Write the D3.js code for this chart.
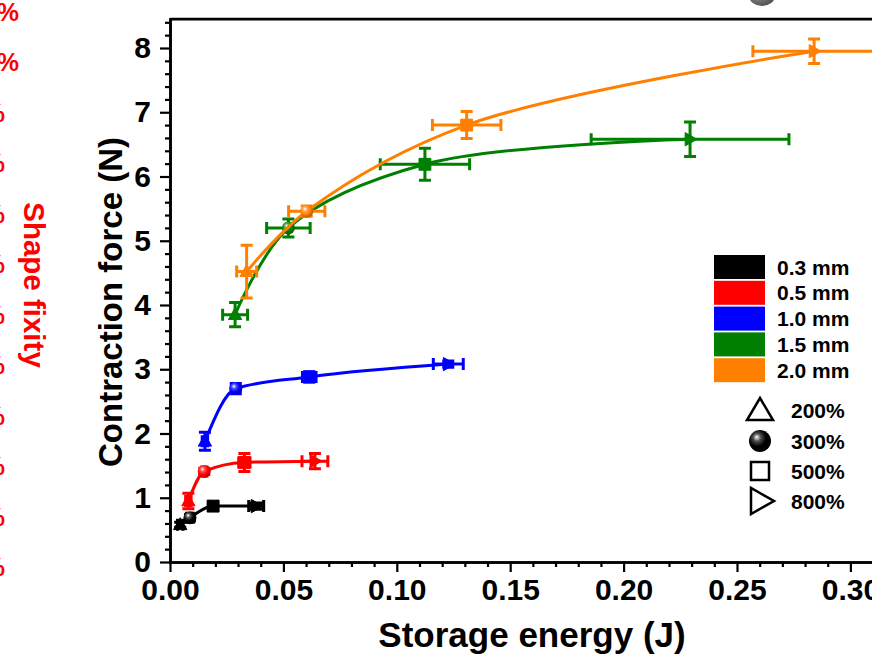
<!DOCTYPE html>
<html>
<head>
<meta charset="utf-8">
<script src="https://cdn.jsdelivr.net/npm/d3@7"></script>
<style>
  body { margin: 0; background: #fff; }
  svg { display: block; }
  text { font-family: "Liberation Sans", Arial, Helvetica, sans-serif; font-weight: bold; }
</style>
</head>
<body>
<svg id="chart" width="872" height="658"></svg>
<script>
// Sample thickness (one curve each) and pre-strain (marker shape per point)
const thicknessLabels = ["0.3 mm", "0.5 mm", "1.0 mm", "1.5 mm", "2.0 mm"];
const strainLabels = ["200%", "300%", "500%", "800%"];

// Storage energy (J), one row per thickness, one column per pre-strain
const energy = [
  [0.0045, 0.0088, 0.0190, 0.0380],
  [0.0081, 0.0151, 0.0328, 0.0639],
  [0.0154, 0.0290, 0.0614, 0.1227],
  [0.0287, 0.0522, 0.1124, 0.2293],
  [0.0338, 0.0603, 0.1308, 0.2840]
];
// Contraction force (N)
const force = [
  [0.58, 0.69, 0.87, 0.87],
  [0.95, 1.41, 1.55, 1.57],
  [1.88, 2.70, 2.88, 3.08],
  [3.85, 5.20, 6.19, 6.58],
  [4.52, 5.46, 6.80, 7.95]
];
// Standard deviations
const energyErr = [
  [0.0012, 0.0015, 0.0020, 0.0033],
  [0.0012, 0.0012, 0.0025, 0.0057],
  [0.0012, 0.0020, 0.0030, 0.0066],
  [0.0055, 0.0096, 0.0197, 0.0436],
  [0.0044, 0.0080, 0.0151, 0.0270]
];
const forceErr = [
  [0.04, 0.05, 0.04, 0.05],
  [0.12, 0.05, 0.14, 0.12],
  [0.14, 0.08, 0.08, 0.05],
  [0.19, 0.14, 0.25, 0.27],
  [0.41, 0.08, 0.21, 0.19]
];

// Axis ticks
const xMajorTicks = [0, 0.05, 0.10, 0.15, 0.20, 0.25, 0.30];
const yMajorTicks = [0, 1, 2, 3, 4, 5, 6, 7, 8];
// Right-hand axis of the neighbouring panel (shape fixity, %)
const fixityTicks = [102, 100, 98, 96, 94, 92, 90, 88, 86, 84, 82, 80];

const seriesColors = ["#000000", "#ff0000", "#0000ff", "#008000", "#ff8000"];
// Smoothing used for each thickness curve
const seriesCurves = [d3.curveMonotoneX, d3.curveMonotoneX, d3.curveMonotoneX,
  d3.curveCatmullRom.alpha(0.5), d3.curveCatmullRom.alpha(0.5)];

const svg = d3.select("#chart");

const x = d3.scaleLinear().domain([0, 0.31]).range([170, 170 + 0.31 * 2268]);
const y = d3.scaleLinear().domain([0, 8.45]).range([562, 562 - 8.45 * 64.25]);
const yFix = d3.scaleLinear().domain([80, 102]).range([567, 12]);

// Gradients for the sphere markers
const defs = svg.append("defs");
function sphereGradient(id, color) {
  const g = defs.append("radialGradient").attr("id", id)
    .attr("cx", "40%").attr("cy", "38%").attr("r", "60%").attr("fx", "35%").attr("fy", "32%");
  g.append("stop").attr("offset", "0%").attr("stop-color", "#ffffff");
  g.append("stop").attr("offset", "30%").attr("stop-color", d3.interpolateRgb("#ffffff", color)(0.7));
  g.append("stop").attr("offset", "65%").attr("stop-color", color);
  g.append("stop").attr("offset", "100%").attr("stop-color", d3.color(color).darker(0.8));
}
seriesColors.forEach((c, i) => sphereGradient("sph" + i, c));
sphereGradient("sphLegend", "#000000");
sphereGradient("sphGray", "#707070");

// Fragment of the neighbouring panel at the top edge
svg.append("ellipse").attr("cx", 762).attr("cy", -4).attr("rx", 13).attr("ry", 10)
  .attr("fill", "url(#sphGray)");

// Neighbouring panel's fixity axis labels (clipped by the left edge)
svg.append("g").selectAll("text").data(fixityTicks).join("text")
  .attr("x", -45).attr("y", d => yFix(d)).attr("dy", "0.36em")
  .attr("fill", "#ff0000").attr("font-size", 25)
  .text(d => d + "%");
svg.append("text")
  .attr("transform", "translate(24,285) rotate(90)")
  .attr("text-anchor", "middle").attr("fill", "#ff0000").attr("font-size", 29.5)
  .text("Shape fixity");

// Axes
const axisStroke = 2.6;
function styleAxis(g) {
  g.select(".domain").attr("stroke", "#000").attr("stroke-width", axisStroke).attr("stroke-linecap", "square");
  g.selectAll(".tick line").attr("stroke", "#000").attr("stroke-width", 2.2);
  g.selectAll(".tick text").attr("fill", "#000").attr("font-size", 30);
}
const xMinor = d3.range(0, 0.3101, 0.01).filter(v => Math.abs(v * 20 - Math.round(v * 20)) > 1e-6);
const yMinor = d3.range(0, 8.41, 0.2).filter(v => Math.abs(v - Math.round(v)) > 1e-6);

svg.append("g").attr("transform", `translate(0,${y(0)})`)
  .call(d3.axisBottom(x).tickValues(xMinor).tickSize(5).tickSizeOuter(0).tickFormat(""))
  .call(styleAxis);
svg.append("g").attr("transform", `translate(0,${y(0)})`)
  .call(d3.axisBottom(x).tickValues(xMajorTicks).tickSize(10).tickSizeOuter(0).tickPadding(7)
    .tickFormat(d3.format(".2f")))
  .call(styleAxis);
svg.append("g").attr("transform", `translate(${x(0)},0)`)
  .call(d3.axisLeft(y).tickValues(yMinor).tickSize(5).tickSizeOuter(0).tickFormat(""))
  .call(styleAxis);
svg.append("g").attr("transform", `translate(${x(0)},0)`)
  .call(d3.axisLeft(y).tickValues(yMajorTicks).tickSize(10).tickSizeOuter(0).tickPadding(9)
    .tickFormat(d3.format("d")))
  .call(styleAxis);

// Top frame line
svg.append("line")
  .attr("x1", x(0)).attr("x2", x(0.31)).attr("y1", y(8.45)).attr("y2", y(8.45))
  .attr("stroke", "#000").attr("stroke-width", axisStroke);

// Axis titles
svg.append("text")
  .attr("x", 532).attr("y", 647).attr("text-anchor", "middle").attr("font-size", 35)
  .text("Storage energy (J)");
svg.append("text")
  .attr("transform", "translate(122,302) rotate(-90)")
  .attr("text-anchor", "middle").attr("font-size", 33)
  .text("Contraction force (N)");

// Data: curve, error bars and markers for each thickness
const cap = 6;

function markerPath(k, s) {
  // k: pre-strain index -> shape
  if (k === 0) return `M0,${-s}L${s * 0.95},${s * 0.7}L${-s * 0.95},${s * 0.7}Z`;
  if (k === 2) return d3.symbol(d3.symbolSquare, (s * 1.7) ** 2)();
  if (k === 3) return `M${s},0L${-s * 0.7},${s * 0.95}L${-s * 0.7},${-s * 0.95}Z`;
  return null;
}

thicknessLabels.forEach((label, i) => {
  const color = seriesColors[i];
  const pts = energy[i].map((e, k) => [e, force[i][k], energyErr[i][k], forceErr[i][k]]);
  const g = svg.append("g");
  const line = d3.line().curve(seriesCurves[i]).x(d => x(d[0])).y(d => y(d[1]));

  g.append("path").datum(pts).attr("d", line)
    .attr("fill", "none").attr("stroke", color).attr("stroke-width", 3);

  const eb = g.append("g").attr("stroke", color).attr("stroke-width", 3).attr("fill", "none");
  pts.forEach(p => {
    const cx = x(p[0]), cy = y(p[1]);
    const xl = x(p[0] - p[2]), xr = x(p[0] + p[2]);
    const yt = y(p[1] + p[3]), yb = y(p[1] - p[3]);
    eb.append("path").attr("d",
      `M${xl},${cy}H${xr}M${xl},${cy - cap}V${cy + cap}M${xr},${cy - cap}V${cy + cap}` +
      `M${cx},${yt}V${yb}M${cx - cap},${yt}H${cx + cap}M${cx - cap},${yb}H${cx + cap}`);
  });

  pts.forEach((p, k) => {
    const cx = x(p[0]), cy = y(p[1]);
    if (k === 1) {
      g.append("circle").attr("cx", cx).attr("cy", cy).attr("r", 6.5).attr("fill", `url(#sph${i})`);
    } else {
      g.append("path").attr("transform", `translate(${cx},${cy})`)
        .attr("d", markerPath(k, 7)).attr("fill", color)
        .attr("stroke", color).attr("stroke-width", 1).attr("stroke-linejoin", "round");
    }
  });
});

// Legend: thickness colours
const legend = svg.append("g");
thicknessLabels.forEach((label, i) => {
  const ty = 255 + i * 25.8;
  legend.append("rect").attr("x", 714).attr("y", ty).attr("width", 51).attr("height", 24)
    .attr("fill", seriesColors[i]);
  legend.append("text").attr("x", 777).attr("y", ty + 12).attr("dy", "0.36em")
    .attr("font-size", 21).text(label);
});

// Legend: pre-strain markers
const strainY = [410, 441, 471, 501];
strainLabels.forEach((label, k) => {
  const cy = strainY[k], cx = 760;
  if (k === 0) {
    legend.append("path").attr("d", `M${cx - 13},${cy + 10}L${cx + 13},${cy + 10}L${cx},${cy - 12}Z`)
      .attr("fill", "#fff").attr("stroke", "#000").attr("stroke-width", 2.5).attr("stroke-linejoin", "miter");
  } else if (k === 1) {
    legend.append("circle").attr("cx", cx).attr("cy", cy).attr("r", 11).attr("fill", "url(#sphLegend)");
  } else if (k === 2) {
    legend.append("rect").attr("x", cx - 9).attr("y", cy - 9).attr("width", 18).attr("height", 18)
      .attr("fill", "#fff").attr("stroke", "#000").attr("stroke-width", 2.5);
  } else {
    legend.append("path").attr("d", `M${cx - 9},${cy - 13}L${cx - 9},${cy + 13}L${cx + 14},${cy}Z`)
      .attr("fill", "#fff").attr("stroke", "#000").attr("stroke-width", 2.5).attr("stroke-linejoin", "miter");
  }
  legend.append("text").attr("x", 791).attr("y", cy).attr("dy", "0.36em")
    .attr("font-size", 21).text(label);
});
</script>
</body>
</html>
